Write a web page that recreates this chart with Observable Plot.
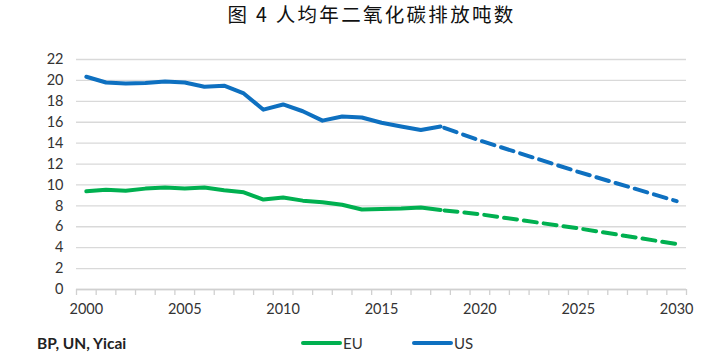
<!DOCTYPE html>
<html>
<head>
<meta charset="utf-8">
<script src="https://cdn.jsdelivr.net/npm/d3@7"></script>
<script src="https://cdn.jsdelivr.net/npm/@observablehq/plot@0.6"></script>
<style>
  html, body { margin: 0; padding: 0; background: #fff; }
  #wrap { position: relative; width: 703px; height: 352px; overflow: hidden; font-family: Lato, "Open Sans", sans-serif; }
  #title { position: absolute; left: 40px; width: 663px; top: 0px; text-align: center; font-family: "Noto Sans CJK SC", sans-serif; font-size: 19.5px; letter-spacing: 2.3px; color: #111; line-height: 28px; }
  #chart { position: absolute; left: 0; top: 40px; }
  #caption { position: absolute; left: 37px; top: 335px; font-weight: bold; font-size: 15.5px; color: #222; line-height: 16px; }
  .leg { position: absolute; top: 335px; font-size: 15px; color: #333; line-height: 16px; display: flex; align-items: center; }
  .sw { display: inline-block; width: 41px; height: 4px; border-radius: 2px; margin-right: 1px; }
</style>
</head>
<body>
<div id="wrap">
  <div id="title"></div>
  <div id="chart"></div>
  <div id="caption"></div>
  <div id="legend"></div>
</div>
<script>
const title = "图 4 人均年二氧化碳排放吨数";
const source = "BP, UN, Yicai";
const seriesNames = ["EU", "US"];
const seriesColors = ["#00B050", "#0E70C0"];

const histYears = [2000,2001,2002,2003,2004,2005,2006,2007,2008,2009,2010,2011,2012,2013,2014,2015,2016,2017,2018];
const usHist = [20.35,19.8,19.7,19.75,19.9,19.8,19.4,19.5,18.75,17.2,17.7,17.05,16.15,16.55,16.45,15.95,15.6,15.25,15.6];
const euHist = [9.4,9.55,9.45,9.65,9.75,9.65,9.75,9.5,9.3,8.6,8.8,8.5,8.35,8.1,7.65,7.7,7.75,7.85,7.6];

const projYears = [2018, 2020, 2025, 2030];
const usProj = [15.6, 14.25, 11.25, 8.45];
const euProj = [7.6, 7.2, 5.85, 4.35];

const yTicks = [0,2,4,6,8,10,12,14,16,18,20,22];
const xLabelTicks = [2000,2005,2010,2015,2020,2025,2030];
const boundaryTicks = d3.range(1999.5, 2031, 1);

document.getElementById("title").textContent = title;
document.getElementById("caption").textContent = source;

const hist = [];
histYears.forEach((y, i) => {
  hist.push({year: y, value: euHist[i], s: "EU"});
  hist.push({year: y, value: usHist[i], s: "US"});
});
const proj = [];
projYears.forEach((y, i) => {
  proj.push({year: y, value: euProj[i], s: "EU"});
  proj.push({year: y, value: usProj[i], s: "US"});
});

const chart = Plot.plot({
  width: 703,
  height: 285,
  marginLeft: 76,
  marginRight: 17,
  marginTop: 19,
  marginBottom: 36,
  style: {fontFamily: "Lato, 'Open Sans', sans-serif", fontSize: "14.5px", color: "#333", background: "transparent"},
  x: {domain: [1999.5, 2030.5]},
  y: {domain: [0, 22]},
  color: {domain: seriesNames, range: seriesColors},
  marks: [
    Plot.gridY(yTicks, {stroke: "#d9d9d9", strokeOpacity: 1, strokeWidth: 1.3}),
    Plot.axisY(yTicks, {tickSize: 0, tickPadding: 13, label: null, fill: "#333"}),
    Plot.axisX(boundaryTicks, {tickSize: 6, tickFormat: () => "", stroke: "#d0d0d0", strokeWidth: 1.3, label: null}),
    Plot.ruleY([0], {stroke: "#d0d0d0", strokeWidth: 1.3}),
    Plot.axisX(xLabelTicks, {tickSize: 0, tickPadding: 14, tickFormat: d => String(d), label: null, fill: "#333"}),
    Plot.line(proj, {x: "year", y: "value", z: "s", stroke: "s", strokeWidth: 4, strokeDasharray: "13,7", strokeDashoffset: -4}),
    Plot.line(hist, {x: "year", y: "value", z: "s", stroke: "s", strokeWidth: 4, curve: "linear"})
  ]
});
document.getElementById("chart").appendChild(chart);

const legend = document.getElementById("legend");
const legLeft = [301, 412];
seriesNames.forEach((n, i) => {
  const d = document.createElement("div");
  d.className = "leg";
  d.style.left = legLeft[i] + "px";
  d.innerHTML = `<span class="sw" style="background:${seriesColors[i]}"></span><span>${n}</span>`;
  legend.appendChild(d);
});
</script>
</body>
</html>
